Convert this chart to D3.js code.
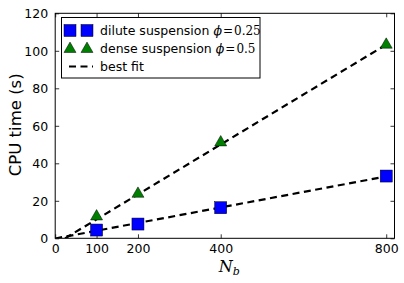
<!DOCTYPE html>
<html>
<head>
<meta charset="utf-8">
<script src="https://cdn.jsdelivr.net/npm/d3@7"></script>
<style>
  html, body { margin: 0; padding: 0; background: #fff; }
  svg { display: block; font-family: "DejaVu Sans", sans-serif; }
</style>
</head>
<body>
<div id="chart"></div>
<script>
// data
const nb = [100, 200, 400, 800]
const dilute = [4.4, 7.6, 16.3, 33.2]
const dense = [11.9, 24.0, 51.4, 103.5]
// best fit lines, endpoints
const fitX = [0, 800]
const diluteFit = [-0.1, 33.0]
const denseFit = [-3.2, 103.3]

const xTicks = [0, 100, 200, 400, 800]
const yTicks = [0, 20, 40, 60, 80, 100, 120]

const width = 404
const height = 283
const margin = {top: 13.3, right: 9.5, bottom: 44.7, left: 55.2}
const innerWidth = width - margin.left - margin.right
const innerHeight = height - margin.top - margin.bottom

const svg = d3.select("#chart").append("svg")
  .attr("width", width)
  .attr("height", height)

const xScale = d3.scaleLinear().domain([0, 820]).range([margin.left, width - margin.right])
const yScale = d3.scaleLinear().domain([0, 120]).range([height - margin.bottom, margin.top])

svg.append("defs").append("clipPath").attr("id", "plotClip")
  .append("rect")
  .attr("x", margin.left).attr("y", margin.top)
  .attr("width", innerWidth).attr("height", innerHeight)

// axes, ticks pointing inward on all sides
const tickLen = 4
function axisStyle(g, keepText) {
  g.select(".domain").remove()
  g.selectAll(".tick line").attr("stroke", "#000").attr("stroke-width", 0.8)
  if (!keepText) g.selectAll(".tick text").remove()
}
svg.append("g")
  .attr("transform", `translate(0,${height - margin.bottom})`)
  .call(d3.axisBottom(xScale).tickValues(xTicks).tickSizeInner(-tickLen).tickSizeOuter(0))
  .call(g => axisStyle(g, true))
  .call(g => g.selectAll(".tick text").attr("dy", null).attr("y", 14.5))
svg.append("g")
  .attr("transform", `translate(0,${margin.top})`)
  .call(d3.axisTop(xScale).tickValues(xTicks).tickSizeInner(-tickLen).tickSizeOuter(0))
  .call(g => axisStyle(g, false))
svg.append("g")
  .attr("transform", `translate(${margin.left},0)`)
  .call(d3.axisLeft(yScale).tickValues(yTicks).tickSizeInner(-tickLen).tickSizeOuter(0))
  .call(g => axisStyle(g, true))
  .call(g => g.selectAll(".tick text").attr("dy", null).attr("y", 4.5).attr("x", -7))
svg.append("g")
  .attr("transform", `translate(${width - margin.right},0)`)
  .call(d3.axisRight(yScale).tickValues(yTicks).tickSizeInner(-tickLen).tickSizeOuter(0))
  .call(g => axisStyle(g, false))

svg.selectAll(".tick text")
  .attr("font-size", 12.5)
  .attr("font-family", "DejaVu Sans, sans-serif")
  .attr("fill", "#000")

// fit lines
const plot = svg.append("g").attr("clip-path", "url(#plotClip)")
const line = d3.line().x(d => xScale(d[0])).y(d => yScale(d[1]))
const fits = [diluteFit, denseFit]
fits.forEach(f => {
  plot.append("path")
    .datum(fitX.map((x, i) => [x, f[i]]))
    .attr("d", line)
    .attr("fill", "none")
    .attr("stroke", "#000")
    .attr("stroke-width", 2.2)
    .attr("stroke-dasharray", "7,4.5")
})

// markers
const sq = 12
const tri = d3.symbol().type(d3.symbolTriangle).size(62)
svg.selectAll(".sq")
  .data(nb.map((n, i) => [n, dilute[i]]))
  .enter().append("rect")
  .attr("class", "sq")
  .attr("x", d => xScale(d[0]) - sq / 2)
  .attr("y", d => yScale(d[1]) - sq / 2)
  .attr("width", sq).attr("height", sq)
  .attr("fill", "#0000ff")
  .attr("stroke", "#000").attr("stroke-width", 0.5)
svg.selectAll(".tri")
  .data(nb.map((n, i) => [n, dense[i]]))
  .enter().append("path")
  .attr("class", "tri")
  .attr("d", tri)
  .attr("transform", d => `translate(${xScale(d[0])},${yScale(d[1]) + 0.5})`)
  .attr("fill", "#008000")
  .attr("stroke", "#000").attr("stroke-width", 0.5)

// frame
svg.append("rect")
  .attr("x", margin.left).attr("y", margin.top)
  .attr("width", innerWidth).attr("height", innerHeight)
  .attr("fill", "none").attr("stroke", "#000").attr("stroke-width", 1)

// axis labels
svg.append("text")
  .attr("transform", `translate(${21},${(margin.top + height - margin.bottom) / 2 - 1}) rotate(-90)`)
  .attr("text-anchor", "middle")
  .attr("font-size", 16.5)
  .text("CPU time (s)")
const xl = svg.append("text")
  .attr("x", (margin.left + width - margin.right) / 2 - 6)
  .attr("y", 272)
  .attr("font-family", "DejaVu Serif, serif")
  .attr("font-style", "italic")
  .attr("font-size", 16)
xl.append("tspan").text("N")
xl.append("tspan").attr("font-size", 11).attr("dy", 3).text("b")

// legend
const legend = svg.append("g")
legend.append("rect")
  .attr("x", 61.5).attr("y", 17.5).attr("width", 198.5).attr("height", 60.5)
  .attr("fill", "#fff").attr("stroke", "#000").attr("stroke-width", 1)
const rows = [
  {label: "dilute suspension", phi: "0.25", kind: "sq"},
  {label: "dense suspension", phi: "0.5", kind: "tri"},
  {label: "best fit", phi: null, kind: "line"}
]
const rowY = [30.5, 48.5, 66.5]
rows.forEach((r, i) => {
  const y = rowY[i]
  if (r.kind === "sq") {
    [70, 87].forEach(x => legend.append("rect")
      .attr("x", x - sq / 2).attr("y", y - sq / 2).attr("width", sq).attr("height", sq)
      .attr("fill", "#0000ff").attr("stroke", "#000").attr("stroke-width", 0.5))
  } else if (r.kind === "tri") {
    [70, 87].forEach(x => legend.append("path")
      .attr("d", tri).attr("transform", `translate(${x},${y + 0.5})`)
      .attr("fill", "#008000").attr("stroke", "#000").attr("stroke-width", 0.5))
  } else {
    legend.append("line")
      .attr("x1", 69).attr("x2", 93).attr("y1", y).attr("y2", y)
      .attr("stroke", "#000").attr("stroke-width", 2.2).attr("stroke-dasharray", "7,4.5")
  }
  const t = legend.append("text")
    .attr("x", 100).attr("y", y + 4.5)
    .attr("font-size", 12.5)
  t.append("tspan").text(r.label)
  if (r.phi) {
    t.append("tspan").attr("dx", 4).attr("font-family", "DejaVu Serif, serif").attr("font-style", "italic").text("ϕ")
    t.append("tspan").attr("dx", 1).attr("font-family", "DejaVu Serif, serif").attr("font-size", 12).text("=")
    t.append("tspan").attr("dx", 1).attr("font-family", "DejaVu Serif, serif").attr("font-size", 12).text(r.phi)
  }
})
</script>
</body>
</html>
